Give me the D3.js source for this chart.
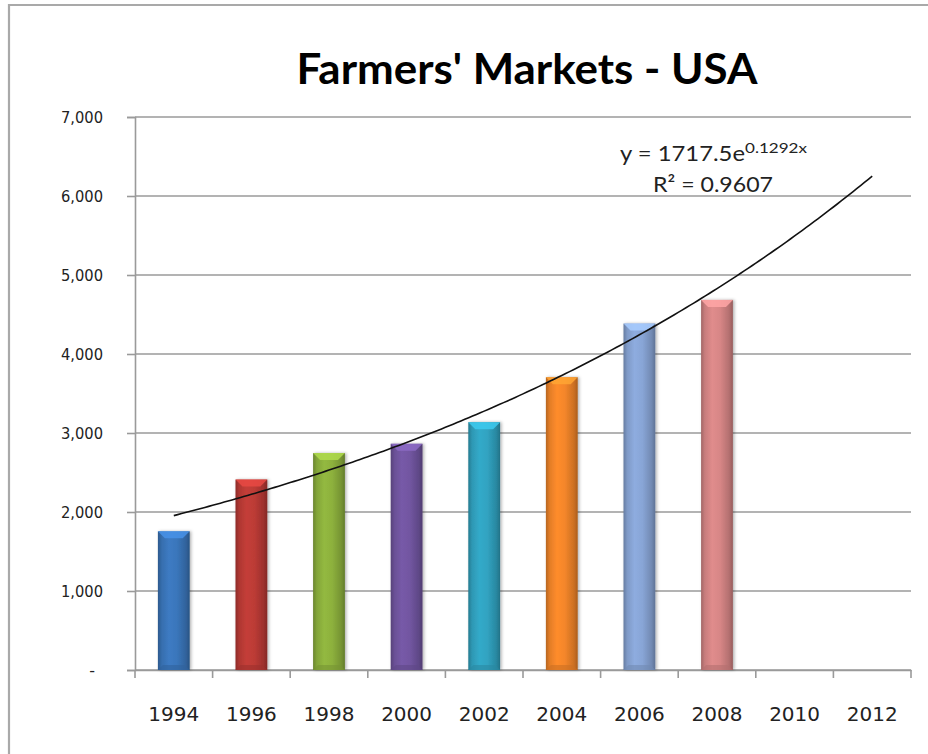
<!DOCTYPE html>
<html>
<head>
<meta charset="utf-8">
<script src="https://cdn.jsdelivr.net/npm/d3@7"></script>
<style>
  html, body { margin: 0; padding: 0; background: #fff; }
  svg { display: block; }
</style>
</head>
<body>
<svg id="chart" width="928" height="754"></svg>
<script>
// ---- data ----
const years = ["1994", "1996", "1998", "2000", "2002", "2004", "2006", "2008", "2010", "2012"];
const markets = [1755, 2410, 2746, 2863, 3137, 3706, 4385, 4685, null, null];
const barColors = ["#3a76bb", "#bc3b36", "#8db13d", "#7256a1", "#31a3c1", "#f4862a", "#88a5d6", "#d78686", "#888888", "#888888"];
const yTicks = [0, 1000, 2000, 3000, 4000, 5000, 6000, 7000];
const trendA = 1717.5;   // y = a * e^(b x), x = 1..10
const trendB = 0.1292;
const titleText = "Farmers' Markets - USA";
const eqMain = "y = 1717.5e";
const eqExp = "0.1292x";
const r2Text = "R² = 0.9607";

// ---- layout ----
const svg = d3.select("#chart");
const plot = { left: 135, right: 911, top: 117, bottom: 670 };

const x = d3.scaleBand().domain(years).range([plot.left, plot.right])
  .paddingInner(0.59).paddingOuter(0.295);
const step = x.step();
const y = d3.scaleLinear().domain([0, 7000]).range([plot.bottom, plot.top]);
const xTrend = d3.scaleLinear().domain([1, years.length])
  .range([x(years[0]) + x.bandwidth() / 2, x(years[years.length - 1]) + x.bandwidth() / 2]);

// outer chart border (left & top visible)
svg.append("path")
  .attr("d", "M9,754 L9,5 L928,5")
  .attr("fill", "none").attr("stroke", "#a9a9a9").attr("stroke-width", 2.2);

// title
svg.append("text")
  .attr("x", 527).attr("y", 84)
  .attr("text-anchor", "middle")
  .attr("font-family", "Lato, 'Open Sans', sans-serif")
  .attr("font-weight", "bold")
  .attr("font-size", 42)
  .attr("textLength", 461).attr("lengthAdjust", "spacingAndGlyphs")
  .attr("fill", "#000")
  .text(titleText);

// gridlines
svg.append("g").selectAll("line").data(yTicks).join("line")
  .attr("x1", plot.left).attr("x2", plot.right)
  .attr("y1", d => y(d)).attr("y2", d => y(d))
  .attr("stroke", "#9a9a9a").attr("stroke-width", 1.6);

// y axis
const yAxis = d3.axisLeft(y).tickValues(yTicks).tickSize(8).tickPadding(24)
  .tickFormat(d => d === 0 ? "-" : d3.format(",")(d));
const gy = svg.append("g").attr("transform", `translate(${plot.left},0)`).call(yAxis);
gy.select(".domain").attr("stroke", "#9a9a9a").attr("stroke-width", 1.6);
gy.selectAll(".tick line").attr("stroke", "#9a9a9a").attr("stroke-width", 1.6);
gy.selectAll(".tick text")
  .attr("font-family", "'DejaVu Sans', sans-serif").attr("font-size", 16).attr("fill", "#222")
  .attr("textLength", d => d === 0 ? null : 42).attr("lengthAdjust", "spacingAndGlyphs")
  .attr("dx", d => d === 0 ? -8 : 0);

// x axis (labels at category centres, ticks at boundaries)
const xAxis = d3.axisBottom(x).tickSize(0).tickPadding(37);
const gx = svg.append("g").attr("transform", `translate(0,${plot.bottom})`).call(xAxis);
gx.select(".domain").attr("stroke", "#9a9a9a").attr("stroke-width", 1.6);
gx.selectAll(".tick text")
  .attr("font-family", "'DejaVu Sans', sans-serif").attr("font-size", 20).attr("fill", "#222");
const bounds = years.map(d => x(d) - (step - x.bandwidth()) / 2).concat([plot.right]);
svg.append("g").selectAll("line").data(bounds).join("line")
  .attr("x1", d => d).attr("x2", d => d)
  .attr("y1", plot.bottom).attr("y2", plot.bottom + 8)
  .attr("stroke", "#9a9a9a").attr("stroke-width", 1.6);

// gradients for bars
const defs = svg.append("defs");
barColors.forEach((c, i) => {
  const base = d3.color(c);
  const g = defs.append("linearGradient").attr("id", "bg" + i)
    .attr("x1", "0%").attr("x2", "100%").attr("y1", "0%").attr("y2", "0%");
  [[0, base.darker(0.8)], [0.12, base.darker(0.2)], [0.35, base.brighter(0.12)],
   [0.6, base], [0.88, base.darker(0.5)], [1, base.darker(1.0)]]
    .forEach(([o, col]) => g.append("stop").attr("offset", o).attr("stop-color", col.formatHex()));
});
const filt = defs.append("filter").attr("id", "shadow").attr("x", "-20%").attr("y", "-5%").attr("width", "140%").attr("height", "110%");
filt.append("feDropShadow").attr("dx", 1.5).attr("dy", 0).attr("stdDeviation", 1.5).attr("flood-opacity", 0.3);

const barData = years.map((yr, i) => ({ yr, v: markets[i], i })).filter(d => d.v != null);

const bars = svg.append("g").selectAll("g").data(barData).join("g");
bars.append("rect")
  .attr("x", d => x(d.yr)).attr("width", x.bandwidth())
  .attr("y", d => y(d.v)).attr("height", d => y(0) - y(d.v))
  .attr("fill", d => `url(#bg${d.i})`)
  .attr("filter", "url(#shadow)");
// top bevel highlight
bars.append("path")
  .attr("d", d => {
    const x0 = x(d.yr), w = x.bandwidth(), t = y(d.v), b = 7;
    return `M${x0},${t} L${x0 + w},${t} L${x0 + w - b},${t + b} L${x0 + b},${t + b} Z`;
  })
  .attr("fill", d => d3.color(barColors[d.i]).brighter(0.6).formatHex())
  .attr("opacity", 0.85);
// bottom bevel shade
bars.append("path")
  .attr("d", d => {
    const x0 = x(d.yr), w = x.bandwidth(), bt = y(0), b = 5;
    return `M${x0},${bt} L${x0 + w},${bt} L${x0 + w - b},${bt - b} L${x0 + b},${bt - b} Z`;
  })
  .attr("fill", d => d3.color(barColors[d.i]).darker(0.5).formatHex())
  .attr("opacity", 0.6);

// trendline
const trendPts = d3.range(1, years.length + 0.001, 0.05).map(t => [xTrend(t), y(trendA * Math.exp(trendB * t))]);
svg.append("path")
  .attr("d", d3.line()(trendPts))
  .attr("fill", "none").attr("stroke", "#111").attr("stroke-width", 1.6);

// equation label
const eq = svg.append("text")
  .attr("x", 620).attr("y", 161)
  .attr("font-family", "Lato, 'Open Sans', sans-serif")
  .attr("font-size", 22).attr("fill", "#222");
eq.append("tspan").attr("textLength", 125).attr("lengthAdjust", "spacingAndGlyphs").text(eqMain);
eq.append("tspan").attr("dy", -8).attr("font-size", 13)
  .attr("textLength", 62).attr("lengthAdjust", "spacingAndGlyphs").text(eqExp);

svg.append("text")
  .attr("x", 713).attr("y", 192)
  .attr("text-anchor", "middle")
  .attr("font-family", "Lato, 'Open Sans', sans-serif")
  .attr("font-size", 22).attr("fill", "#222")
  .attr("textLength", 120).attr("lengthAdjust", "spacingAndGlyphs")
  .text(r2Text);
</script>
</body>
</html>
